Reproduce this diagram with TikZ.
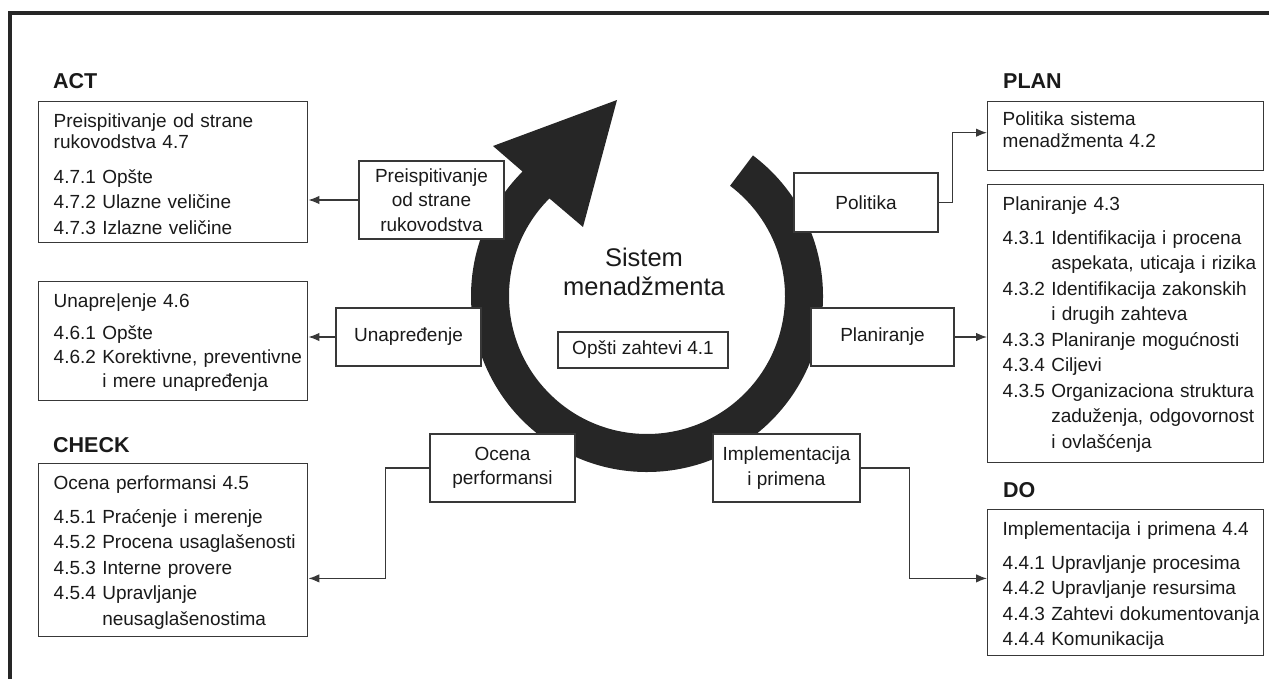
\documentclass[tikz,border=0pt]{standalone}
\usepackage{fontspec}
\setmainfont{Liberation Sans}
\usetikzlibrary{arrows.meta,calc}

\definecolor{ringgray}{HTML}{262626}
\definecolor{linegray}{HTML}{383838}
\definecolor{textgray}{HTML}{1A1A1A}

\newcommand{\itemfont}{\fontsize{19}{25.5}\selectfont}
\newcommand{\midfont}{\fontsize{19}{24.5}\selectfont}
\newcommand{\sysfont}{\fontsize{25.5}{29}\selectfont}
\newcommand{\pdcafont}{\fontsize{21.5}{24}\selectfont\bfseries}
\newcommand{\padtop}[1]{\rule{0pt}{#1pt}}
\newcommand{\padbot}[1]{\rule[-#1pt]{0pt}{0pt}}
\newcommand{\subind}{\leavevmode\phantom{4.4.4}\ }

\begin{document}
\begin{tikzpicture}[x=1pt,y=-1pt,
  bigbox/.style={draw=linegray,line width=1.4pt,fill=white,anchor=north west,inner sep=0pt,
    text width=#1,align=left,font=\itemfont,text=textgray,
    execute at begin node={\leftskip=15pt\rightskip=-10pt plus 1fil\relax}},
  midbox/.style={draw=linegray,line width=1.4pt,fill=white,inner sep=0pt,align=center,
    font=\midfont,text=textgray},
  pdca/.style={anchor=base west,inner sep=0pt,font=\pdcafont,text=textgray},
  conn/.style={draw=linegray,line width=1.3pt,-{Latex[length=11pt,width=8.5pt]}}]

\useasboundingbox (0,0) rectangle (1269,679);

\draw[line width=4pt,color=ringgray] (1275,13.5) -- (9.5,13.5) -- (9.5,685);


\coordinate (ctr) at (647,296);
\fill[ringgray] ($(ctr)+(-53:176)$) arc[start angle=-53,end angle=225,radius=176]
  -- (493,146) -- (617,100) -- (583,227) -- ($(ctr)+(225:138)$)
  arc[start angle=225,end angle=-53,radius=138] -- cycle;


\node[pdca] (actlbl) at (53,89) {ACT};
\node[pdca] (planlbl) at (1003,89) {PLAN};
\node[pdca] (checklbl) at (53,452) {CHECK};
\node[pdca] (dolbl) at (1003,497) {DO};


\node[bigbox=269pt] (act1) at (38,101) {\padtop{26}Preispitivanje od strane\\[-4.5pt]
rukovodstva 4.7\\[9pt]
4.7.1 Opšte\\
4.7.2 Ulazne veličine\\
4.7.3 Izlazne veličine\padbot{8.5}};

\node[bigbox=269pt] (act2) at (38,281) {\padtop{26}Unapre|enje 4.6\\[6pt]
4.6.1 Opšte\\[-1.5pt]
4.6.2 Korektivne, preventivne\\[-1.5pt]
\subind i mere unapređenja\padbot{13.5}};

\node[bigbox=269pt] (chk1) at (38,463) {\padtop{26}Ocena performansi 4.5\\[8pt]
4.5.1 Praćenje i merenje\\
4.5.2 Procena usaglašenosti\\
4.5.3 Interne provere\\
4.5.4 Upravljanje\\
\subind neusaglašenostima\padbot{11}};

\node[bigbox=276pt] (pln1) at (987,101) {\padtop{24}Politika sistema\\[-3.5pt]
menadžmenta 4.2\padbot{23}};

\node[bigbox=276pt] (pln2) at (987,184) {\padtop{26}Planiranje 4.3\\[8pt]
4.3.1 Identifikacija i procena\\
\subind aspekata, uticaja i rizika\\
4.3.2 Identifikacija zakonskih\\
\subind i drugih zahteva\\
4.3.3 Planiranje mogućnosti\\
4.3.4 Ciljevi\\
4.3.5 Organizaciona struktura\\
\subind zaduženja, odgovornost\\
\subind i ovlašćenja\padbot{14.5}};

\node[bigbox=276pt] (do1) at (987,509) {\padtop{26}Implementacija i primena 4.4\\[8pt]
4.4.1 Upravljanje procesima\\
4.4.2 Upravljanje resursima\\
4.4.3 Zahtevi dokumentovanja\\
4.4.4 Komunikacija\padbot{10}};


\node[midbox,minimum width=145pt,minimum height=78pt] (revw) at (431.5,200) {Preispitivanje\\od strane\\rukovodstva};
\node[midbox,minimum width=145pt,minimum height=58pt] (impr) at (408.5,337) {Unapređenje};
\node[midbox,minimum width=144pt,minimum height=59pt] (pol) at (866,202.5) {Politika};
\node[midbox,minimum width=143pt,minimum height=58pt] (plng) at (882.5,337) {Planiranje};
\node[midbox,minimum width=145pt,minimum height=68pt] (eval) at (502.5,468) {Ocena\\performansi};
\node[midbox,minimum width=147pt,minimum height=68pt] (impl) at (786.5,468) {Implementacija\\i primena};
\node[midbox,minimum width=170pt,minimum height=36pt] (gen) at (643,350) {Opšti zahtevi 4.1};
\node[text=textgray,font=\sysfont,align=center,inner sep=0pt] (sys) at (644,271.5) {Sistem\\menadžmenta};


\draw[conn] (revw.west) -- (revw.west -| act1.east);
\draw[conn] (impr.west) -- (impr.west -| act2.east);
\draw[conn] (pol.east) -- ++(14,0) |- ($(pln1.west)+(0,-3.5)$);
\draw[conn] (plng.east) -- (plng.east -| pln2.west);
\draw[conn] (eval.west) -- ++(-44,0) |- ($(chk1.south east)+(0,-58.5)$);
\draw[conn] (impl.east) -- ++(49,0) |- ($(do1.south west)+(0,-78)$);

\end{tikzpicture}
\end{document}
